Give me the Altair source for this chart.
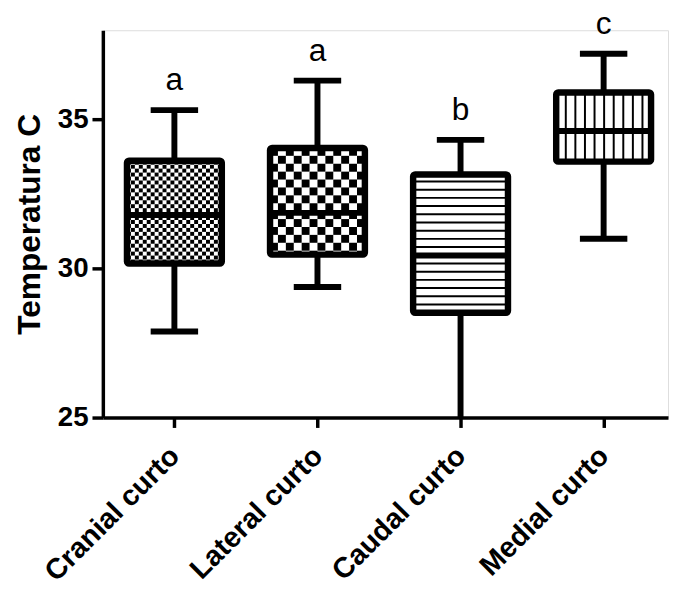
import json
import altair as alt
import pandas as pd

# ---- data ----
groups = ["Cranial curto", "Lateral curto", "Caudal curto", "Medial curto"]
whisker_low = [27.89, 29.38, 24.5, 31.0]
q1 = [30.17, 30.47, 28.52, 33.59]
median = [31.80, 31.87, 30.44, 34.62]
q3 = [33.62, 34.05, 33.16, 35.91]
whisker_high = [35.32, 36.31, 34.32, 37.21]
letters = ["a", "a", "b", "c"]
patterns = ["fine_check", "coarse_check", "hlines", "vlines"]

# ---- layout ----
W, H = 572, 392
XDOM = [-0.5, 3.45]
YDOM = [25, 38]
ux = (XDOM[1] - XDOM[0]) / W   # data units per px (x)
uy = (YDOM[1] - YDOM[0]) / H   # data units per px (y)
BOX_HALF = 48 * ux
CAP_HALF = 24 * ux
FONT = "Liberation Sans"

xs = alt.Scale(domain=XDOM, nice=False, zero=False)
ys = alt.Scale(domain=YDOM, nice=False, zero=False)

boxes = pd.DataFrame({
    "pos": list(range(len(groups))),
    "group": groups,
    "lo": whisker_low, "q1": q1, "med": median, "q3": q3, "hi": whisker_high,
    "letter": letters,
})
boxes["left"] = boxes["pos"] - BOX_HALF
boxes["right"] = boxes["pos"] + BOX_HALF
boxes["capl"] = boxes["pos"] - CAP_HALF
boxes["capr"] = boxes["pos"] + CAP_HALF

# ---- fill patterns (decoration only, built from box extents) ----
cells, hl, vl = [], [], []
for i, pat in enumerate(patterns):
    xl, xr = i - BOX_HALF, i + BOX_HALF
    yb, yt = q1[i], q3[i]
    wpx = (xr - xl) / ux
    hpx = (yt - yb) / uy
    if pat in ("fine_check", "coarse_check"):
        c = 4.0 if pat == "fine_check" else 8.0
        ncol = int(wpx // c) + 1
        nrow = int(hpx // c) + 1
        for r in range(nrow):
            for k in range(ncol):
                if (r + k) % 2 == 0:
                    x0 = xl + k * c * ux
                    x1 = min(xl + (k + 1) * c * ux, xr)
                    y0 = yt - r * c * uy
                    y1 = max(yt - (r + 1) * c * uy, yb)
                    if x1 > x0 and y0 > y1:
                        cells.append({"x": x0, "x2": x1, "y": y1, "y2": y0})
    elif pat == "hlines":
        step = 8.3
        n = int(hpx // step)
        for r in range(1, n + 1):
            hl.append({"x": xl, "x2": xr, "y": yb + r * step * uy})
    elif pat == "vlines":
        step = 9.7
        n = int(wpx // step)
        for k in range(1, n + 1):
            vl.append({"x": xl + k * step * ux, "y": yb, "y2": yt})

cells_df = pd.DataFrame(cells)
hl_df = pd.DataFrame(hl)
vl_df = pd.DataFrame(vl)

label_expr = json.dumps(groups) + "[datum.value]"

x_axis = alt.Axis(
    values=list(range(len(groups))), labelExpr=label_expr, title=None,
    labelAngle=-45, labelAlign="right", labelBaseline="middle",
    labelOverlap=False, labelBound=False, labelFlush=False,
    labelFontSize=29, labelFontWeight="bold", labelFont=FONT, labelColor="black",
    labelPadding=24, tickSize=10, tickWidth=3.5, tickColor="black",
    domainWidth=3.5, domainColor="black", grid=False,
)
y_axis = alt.Axis(
    values=[25, 30, 35], title="Temperatura C", titleFontSize=32,
    titleFontWeight="bold", titleFont=FONT, titleColor="black",
    titleBaseline="alphabetic", titleX=-64, titleY=H / 2, titleAngle=-90,
    labelOverlap=False, labelFlush=False,
    labelFontSize=28, labelFontWeight="bold", labelFont=FONT, labelColor="black",
    labelPadding=4, tickSize=11, tickWidth=3.5, tickColor="black",
    domainWidth=3.5, domainColor="black", grid=False,
)

cell_layer = alt.Chart(cells_df).mark_rect(color="black", strokeWidth=0).encode(
    x=alt.X("x:Q", scale=xs, axis=x_axis), x2="x2:Q",
    y=alt.Y("y:Q", scale=ys, axis=y_axis), y2="y2:Q",
)
hl_layer = alt.Chart(hl_df).mark_rule(color="black", strokeWidth=2).encode(
    x=alt.X("x:Q", scale=xs), x2="x2:Q", y=alt.Y("y:Q", scale=ys),
)
vl_layer = alt.Chart(vl_df).mark_rule(color="black", strokeWidth=2).encode(
    x=alt.X("x:Q", scale=xs), y=alt.Y("y:Q", scale=ys), y2="y2:Q",
)

base = alt.Chart(boxes)
outline = base.mark_rect(fill="white", fillOpacity=0, stroke="black",
                         strokeWidth=6.5, cornerRadius=2).encode(
    x=alt.X("left:Q", scale=xs), x2="right:Q",
    y=alt.Y("q1:Q", scale=ys), y2="q3:Q",
)
med = base.mark_rule(color="black", strokeWidth=6).encode(
    x=alt.X("left:Q", scale=xs), x2="right:Q", y=alt.Y("med:Q", scale=ys),
)
wh_up = base.mark_rule(color="black", strokeWidth=6, clip=True).encode(
    x=alt.X("pos:Q", scale=xs), y=alt.Y("q3:Q", scale=ys), y2="hi:Q",
)
wh_lo = base.mark_rule(color="black", strokeWidth=6, clip=True).encode(
    x=alt.X("pos:Q", scale=xs), y=alt.Y("lo:Q", scale=ys), y2="q1:Q",
)
cap_up = base.mark_rule(color="black", strokeWidth=6, clip=True).encode(
    x=alt.X("capl:Q", scale=xs), x2="capr:Q", y=alt.Y("hi:Q", scale=ys),
)
cap_lo = base.mark_rule(color="black", strokeWidth=6, clip=True).encode(
    x=alt.X("capl:Q", scale=xs), x2="capr:Q", y=alt.Y("lo:Q", scale=ys),
)
text = base.mark_text(fontSize=32, font=FONT, color="black", dy=-20,
                      baseline="alphabetic", align="center").encode(
    x=alt.X("pos:Q", scale=xs), y=alt.Y("hi:Q", scale=ys), text="letter:N",
)

chart = alt.layer(
    cell_layer, hl_layer, vl_layer, outline, med, wh_up, wh_lo, cap_up, cap_lo, text
).properties(
    width=W, height=H,
    autosize=alt.AutoSizeParams(type="none"),
    padding={"left": 96, "top": 19, "right": 1, "bottom": 170},
    background="white",
).configure_view(strokeWidth=0).configure(font=FONT)

chart.save("out.html", embed_options={"renderer": "svg", "actions": False})
